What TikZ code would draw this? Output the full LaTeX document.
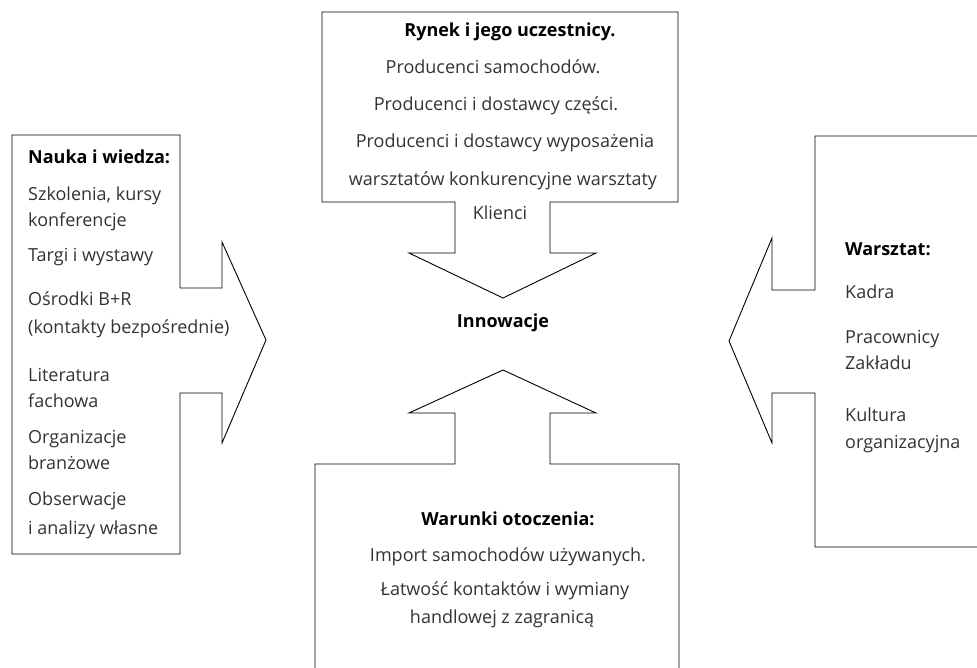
\documentclass[tikz,border=0pt]{standalone}
\usepackage{fontspec}
\setmainfont{Open Sans}
\begin{document}
\begin{tikzpicture}[x=1pt,y=-1pt,
  outline/.style={draw=black, line width=0.9pt, line join=miter},
  txt/.style={inner sep=0pt, font=\fontsize{18}{21}\selectfont, text=black!80},
  head/.style={inner sep=0pt, font=\fontsize{18}{21}\selectfont\bfseries, text=black},
  lft/.style={anchor=mid west},
  ctr/.style={anchor=mid}]
\useasboundingbox (0,0) rectangle (977,667);
\begin{scope}
\clip (0,0) rectangle (977,667);
% arrow from the left panel
\draw[outline] (12,135) -- (180,135) -- (180,288) -- (222,288) -- (222,242)
  -- (266,340) -- (222,443) -- (222,393) -- (180,393) -- (180,554) -- (12,554) -- cycle;
% arrow from the right panel (open towards the right edge)
\draw[outline] (980,136) -- (815,136) -- (815,290) -- (772,290) -- (772,238)
  -- (729,341) -- (772,443) -- (772,393) -- (815,393) -- (815,547) -- (980,547);
% arrow from the top panel
\draw[outline] (322,12) -- (678,12) -- (678,202) -- (550,202) -- (550,253)
  -- (596,253) -- (503,298) -- (409,253) -- (455,253) -- (455,202) -- (322,202) -- cycle;
% arrow from the bottom panel (open towards the bottom edge)
\draw[outline] (315,670) -- (315,464) -- (455,464) -- (455,413) -- (409,413)
  -- (503,370) -- (596,413) -- (550,413) -- (550,464) -- (679,464) -- (679,670);
\end{scope}

% centre
\node[head,ctr] (inn) at (503,325) {Innowacje};

% top panel
\node[head,ctr] (t0) at (510,34) {Rynek i jego uczestnicy.};
\node[txt,ctr] (t1) at (493,71) {Producenci samochodów.};
\node[txt,ctr] (t2) at (496,108) {Producenci i dostawcy części.};
\node[txt,ctr] (t3) at (505,145) {Producenci i dostawcy wyposażenia};
\node[txt,ctr] (t4) at (503,183) {warsztatów konkurencyjne warsztaty};
\node[txt,ctr] (t5) at (500,217) {Klienci};

% left panel
\node[head,lft] (l0) at (28,161) {Nauka i wiedza:};
\node[txt,lft] (l1) at (28,198) {Szkolenia, kursy};
\node[txt,lft] (l2) at (28,224) {konferencje};
\node[txt,lft] (l3) at (28,259) {Targi i wystawy};
\node[txt,lft] (l4) at (28,303) {Ośrodki B+R};
\node[txt,lft] (l5) at (28,331) {(kontakty bezpośrednie)};
\node[txt,lft] (l6) at (28,379) {Literatura};
\node[txt,lft] (l7) at (28,405) {fachowa};
\node[txt,lft] (l8) at (28,441) {Organizacje};
\node[txt,lft] (l9) at (28,467) {branżowe};
\node[txt,lft] (l10) at (28,503) {Obserwacje};
\node[txt,lft] (l11) at (28,532) {i analizy własne};

% right panel
\node[head,lft] (r0) at (845,253) {Warsztat:};
\node[txt,lft] (r1) at (845,296) {Kadra};
\node[txt,lft] (r2) at (845,341) {Pracownicy};
\node[txt,lft] (r3) at (845,367) {Zakładu};
\node[txt,lft] (r4) at (845,419) {Kultura};
\node[txt,lft] (r5) at (845,446) {organizacyjna};

% bottom panel
\node[head,ctr] (b0) at (508,523) {Warunki otoczenia:};
\node[txt,ctr] (b1) at (508,559) {Import samochodów używanych.};
\node[txt,ctr] (b2) at (505,593) {Łatwość kontaktów i wymiany};
\node[txt,ctr] (b3) at (502,621) {handlowej z zagranicą};
\end{tikzpicture}
\end{document}
